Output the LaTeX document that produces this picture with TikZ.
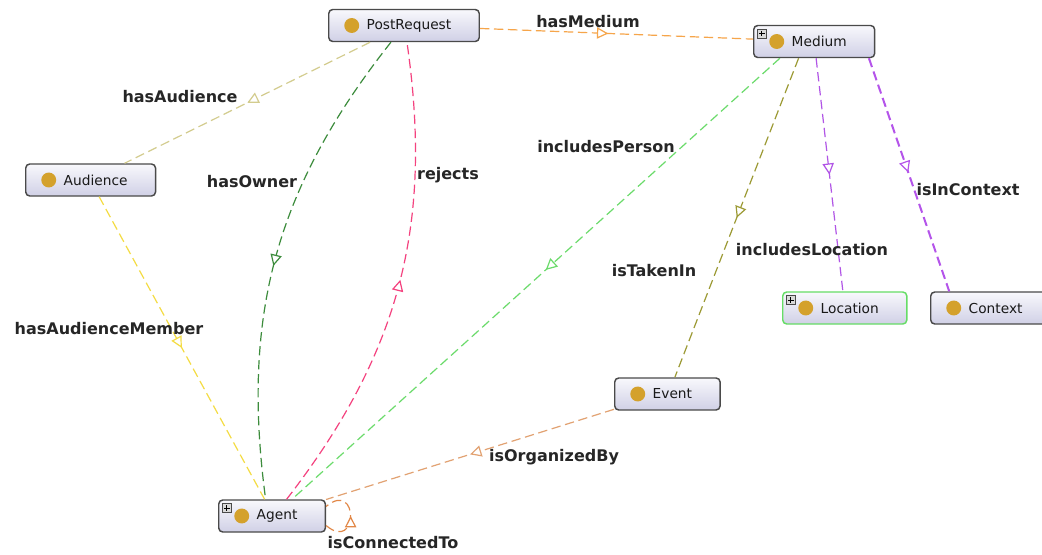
\documentclass[tikz,border=0pt]{standalone}
\usepackage{fontspec}
\setmainfont{DejaVu Sans}
\usetikzlibrary{arrows.meta,decorations.markings}

\definecolor{boxline}{HTML}{4A4A4A}
\definecolor{boxtop}{HTML}{F8F8FC}
\definecolor{boxbot}{HTML}{D0D0E6}
\definecolor{dotgold}{HTML}{D4A12C}
\definecolor{selgreen}{HTML}{66DD66}
\definecolor{cMedium}{HTML}{F6A54A}
\definecolor{cAudience}{HTML}{D3CC8E}
\definecolor{cOwner}{HTML}{3C8C3C}
\definecolor{cRejects}{HTML}{F4427F}
\definecolor{cPerson}{HTML}{6BDB6B}
\definecolor{cTaken}{HTML}{9C9A34}
\definecolor{cLocation}{HTML}{B155E6}
\definecolor{cContext}{HTML}{B454EA}
\definecolor{cMember}{HTML}{F4DC44}
\definecolor{cOrganized}{HTML}{E2A272}
\definecolor{cConnected}{HTML}{E28848}

\tikzset{
  cls/.style={draw=boxline, line width=1.1pt, rounded corners=3pt,
    top color=boxtop, bottom color=boxbot, minimum height=24pt,
    inner xsep=21pt, text=black!90, font=\fontsize{10.3}{12}\selectfont,
    execute at begin node={\hspace*{7.5pt}},
    path picture={\fill[dotgold] ([xshift=17.25pt]path picture bounding box.west) circle (5.6pt);}},
  clsplus/.style={cls, path picture={
    \fill[dotgold] ([xshift=17.25pt]path picture bounding box.west) circle (5.6pt);
    \draw[boxline, fill=gray!30, line width=0.5pt, sharp corners]
      ([shift={(2.5pt,-2.5pt)}]path picture bounding box.north west) rectangle +(7pt,-7pt);
    \draw[black, line width=0.6pt, sharp corners]
      ([shift={(6pt,-3.8pt)}]path picture bounding box.north west) -- +(0,-4.4pt)
      ([shift={(3.8pt,-6pt)}]path picture bounding box.north west) -- +(4.4pt,0);}},
  rel/.style={line width=0.9pt, dash pattern=on 7pt off 3.5pt},
  midarrow/.style={postaction={decorate}, decoration={markings,
    mark=at position #1 with {\arrow[solid]{Triangle[length=8.5pt,width=8.5pt,fill=white,line width=0.9pt]}}}},
  midarrow/.default=0.5,
  lbl/.style={font=\fontsize{12}{14}\selectfont\bfseries, text=black!85, inner sep=0pt},
}

\begin{document}
\begin{tikzpicture}[x=0.75pt,y=-0.75pt]
    \path[use as bounding box, fill=white] (0,0) rectangle (1042,554);

    % classes
    \node[cls, anchor=west] (postrequest) at (328,25.5) {PostRequest};
    \node[clsplus, anchor=west] (medium) at (753,41.5) {Medium};
    \node[cls, anchor=west] (audience) at (25,180) {Audience};
    \node[clsplus, anchor=west, draw=selgreen] (location) at (782,308) {Location};
    \node[cls, anchor=west] (context) at (930,308) {Context};
    \node[cls, anchor=west] (event) at (614,394) {Event};
    \node[clsplus, anchor=west] (agent) at (218,516) {Agent};

    % properties
    \draw[rel, cMedium, midarrow=0.47] (postrequest) -- (medium);
    \draw[rel, cAudience, midarrow] (postrequest) -- (audience);
    \draw[rel, cOwner, midarrow=0.52] (postrequest.232) to[bend right=23] (agent.111);
    \draw[rel, cRejects, midarrow=0.51] (agent.49) to[bend right=23] (postrequest.280);
    \draw[rel, cPerson, midarrow=0.48] (medium.206) -- (agent.40);
    \draw[rel, cTaken, midarrow] (medium.227) -- (event.66);
    \draw[rel, cLocation, midarrow] (medium) -- (location);
    \draw[rel, cContext, line width=1.5pt, midarrow=0.49] (medium.-17) -- (context.158);
    \draw[rel, cMember, midarrow] (audience.-63) -- (agent.114);
    \draw[rel, cOrganized, midarrow] (event.196) -- (agent.17);
    \draw[rel, cConnected, midarrow] (agent.-10) .. controls +(-40:32pt) and +(40:32pt) .. (agent.10);

    % labels
    \node[lbl] (lhasmedium) at (588,22) {hasMedium};
    \node[lbl] (lhasaudience) at (180,97) {hasAudience};
    \node[lbl] (lhasowner) at (252,182) {hasOwner};
    \node[lbl] (lrejects) at (448,175) {rejects};
    \node[lbl] (lincludesperson) at (606,147) {includesPerson};
    \node[lbl] (listakenin) at (654,271) {isTakenIn};
    \node[lbl] (lincludeslocation) at (812,250) {includesLocation};
    \node[lbl] (lisincontext) at (968,190) {isInContext};
    \node[lbl] (lhasaudiencemember) at (109,329) {hasAudienceMember};
    \node[lbl] (lisorganizedby) at (554,457) {isOrganizedBy};
    \node[lbl] (lisconnectedto) at (393,543) {isConnectedTo};

\end{tikzpicture}
\end{document}
